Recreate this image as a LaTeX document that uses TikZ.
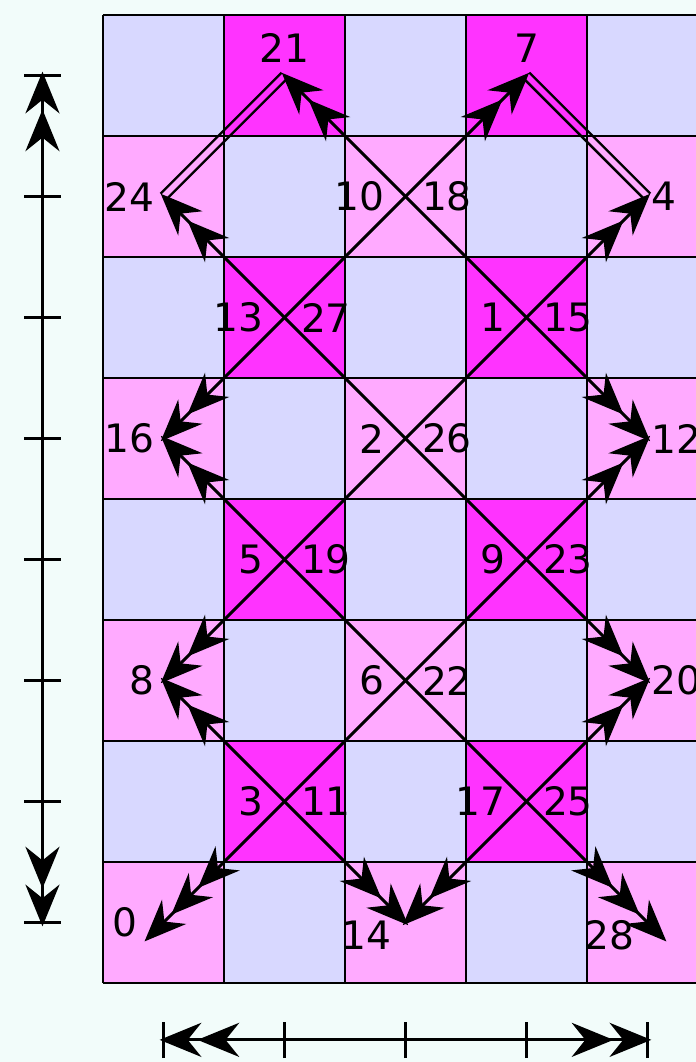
\documentclass[tikz,border=0pt]{standalone}
\usepackage{fontspec}
\setmainfont{DejaVu Sans}
\usepackage{xcolor}
\usetikzlibrary{arrows.meta, positioning}

\definecolor{bgmint}{RGB}{242,252,250}
\definecolor{cellblue}{RGB}{216,216,255}
\definecolor{cellpink}{RGB}{255,170,255}
\definecolor{cellmag}{RGB}{255,51,255}

\begin{document}
\begin{tikzpicture}[
    every node/.style={font=\fontsize{9.2}{10}\selectfont, inner sep=0pt},
    Hd/.tip={Stealth[length=9.8pt, width=8pt, inset=3.2pt, sep=-0.9pt]},
    gridline/.style={line width=0.6pt},
    edge/.style={line width=0.7pt},
    arr/.style={line width=0.7pt, -{Hd[] Hd[]}},
    arrr/.style={line width=0.7pt, -{Hd[] Hd[] Hd[]}, shorten >=-5.4pt},
    twin/.style={line width=0.55pt},
    ruler/.style={line width=0.75pt, {Hd[] Hd[]}-{Hd[] Hd[]}},
    tick/.style={line width=0.75pt}
]
\coordinate (sw) at (-0.851,-0.653);
\coordinate (ne) at (4.901,8.124);
\useasboundingbox (sw) rectangle (ne);
\clip (sw) rectangle (ne);
\fill[bgmint] (sw) rectangle (ne);

% board
\fill[cellblue] (0,0) rectangle (5,8);
\foreach \r in {1,3,5,7}
  \foreach \c in {1,3}
    \fill[cellmag] (\c,\r) rectangle ++(1,1);
\foreach \r in {0,2,4,6}
  \foreach \c in {0,2,4}
    \fill[cellpink] (\c,\r) rectangle ++(1,1);
\draw[gridline] (0,0) grid (5,8);

% corners and points
\foreach \x in {0,...,5}
  \foreach \y in {0,...,8}
    \coordinate (g\x\y) at (\x,\y);
\coordinate (p21) at (1.5,7.5);
\coordinate (p7) at (3.5,7.5);
\coordinate (p24) at (0.5,6.5);
\coordinate (p4) at (4.5,6.5);
\coordinate (p16) at (0.5,4.5);
\coordinate (p12) at (4.5,4.5);
\coordinate (p8) at (0.5,2.5);
\coordinate (p20) at (4.5,2.5);
\coordinate (p0) at (0.5,0.5);
\coordinate (p14) at (2.5,0.5);
\coordinate (p28) at (4.5,0.5);
\coordinate (c10) at (2.5,6.5);
\coordinate (c13) at (1.5,5.5);
\coordinate (c1) at (3.5,5.5);
\coordinate (c2) at (2.5,4.5);
\coordinate (c5) at (1.5,3.5);
\coordinate (c9) at (3.5,3.5);
\coordinate (c6) at (2.5,2.5);
\coordinate (c3) at (1.5,1.5);
\coordinate (c17) at (3.5,1.5);

% diagonals
\draw[edge] (g15) -- (g37);
\draw[edge] (g13) -- (g46);
\draw[edge] (g11) -- (g44);
\draw[edge] (g31) -- (g42);
\draw[edge] (g27) -- (g45);
\draw[edge] (g16) -- (g43);
\draw[edge] (g14) -- (g41);
\draw[edge] (g12) -- (g21);

\draw[twin] ([shift={(-0.024,0.024)}]p21) -- ([shift={(-0.024,0.024)}]p24);
\draw[twin] ([shift={(0.024,-0.024)}]p21) -- ([shift={(0.024,-0.024)}]p24);
\draw[twin] ([shift={(0.024,0.024)}]p7) -- ([shift={(0.024,0.024)}]p4);
\draw[twin] ([shift={(-0.024,-0.024)}]p7) -- ([shift={(-0.024,-0.024)}]p4);

\draw[arr] (g27) -- (p21);
\draw[arr] (g16) -- (p24);
\draw[arr] (g37) -- (p7);
\draw[arr] (g46) -- (p4);
\draw[arr] (g15) -- (p16);
\draw[arr] (g14) -- (p16);
\draw[arr] (g45) -- (p12);
\draw[arr] (g44) -- (p12);
\draw[arr] (g13) -- (p8);
\draw[arr] (g12) -- (p8);
\draw[arr] (g43) -- (p20);
\draw[arr] (g42) -- (p20);
\draw[arr] (g21) -- (p14);
\draw[arr] (g31) -- (p14);
\draw[arrr] (g11) -- (p0);
\draw[arrr] (g41) -- (p28);

% labels
\node[above=0.1cm of p21] (l21) {21};
\node[above=0.1cm of p7] (l7) {7};
\node[left=0.07cm of p24] (l24) {24};
\node[right=0.03cm of p4] (l4) {4};
\node[left=0.17cm of c10] (l10) {10};
\node[right=0.13cm of c10] (l18) {18};
\node[left=0.17cm of c13] (l13) {13};
\node[right=0.13cm of c13] (l27) {27};
\node[left=0.17cm of c1] (l1) {1};
\node[right=0.13cm of c1] (l15) {15};
\node[left=0.07cm of p16] (l16) {16};
\node[left=0.17cm of c2] (l2) {2};
\node[right=0.13cm of c2] (l26) {26};
\node[right=0.03cm of p12] (l12) {12};
\node[left=0.17cm of c5] (l5) {5};
\node[right=0.13cm of c5] (l19) {19};
\node[left=0.17cm of c9] (l9) {9};
\node[right=0.13cm of c9] (l23) {23};
\node[left=0.07cm of p8] (l8) {8};
\node[left=0.17cm of c6] (l6) {6};
\node[right=0.13cm of c6] (l22) {22};
\node[right=0.03cm of p20] (l20) {20};
\node[left=0.17cm of c3] (l3) {3};
\node[right=0.13cm of c3] (l11) {11};
\node[left=0.17cm of c17] (l17) {17};
\node[right=0.13cm of c17] (l25) {25};
\node[left=0.21cm of p0] (l0) {0};
\node[below left=-0.02cm and 0.11cm of p14] (l14) {14};
\node[below left=-0.02cm and 0.1cm of p28] (l28) {28};

% rulers
\coordinate (v0) at (-0.5,0.5);
\coordinate (v7) at (-0.5,7.5);
\coordinate (h0) at (0.5,-0.47);
\coordinate (h4) at (4.5,-0.47);
\draw[ruler] (v0) -- (v7);
\draw[ruler] (h0) -- (h4);
\foreach \y in {0.5,1.5,...,7.5}
  \draw[tick] (-0.65,\y) -- (-0.35,\y);
\foreach \x in {0.5,1.5,...,4.5}
  \draw[tick] (\x,-0.62) -- (\x,-0.32);
\end{tikzpicture}
\end{document}
